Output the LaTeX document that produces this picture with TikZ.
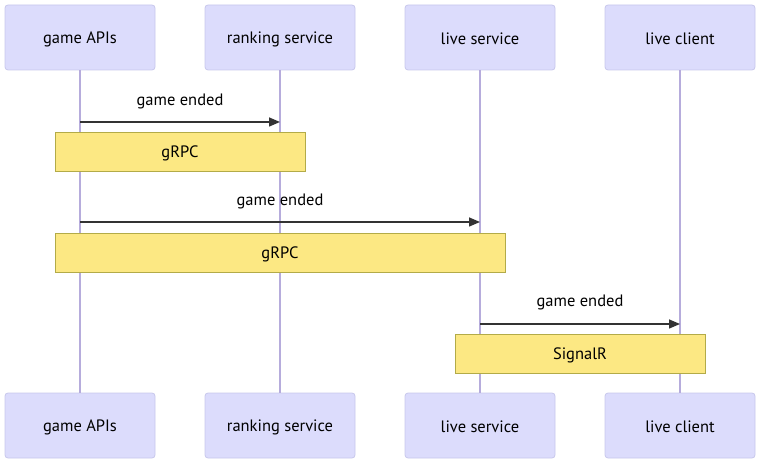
\documentclass[tikz,border=0pt]{standalone}
\usepackage{fontspec}
\setmainfont{PT Sans}
\usetikzlibrary{arrows.meta}
\definecolor{actfill}{HTML}{DCDCFC}
\definecolor{actdraw}{HTML}{C8C8EC}
\definecolor{lifeln}{HTML}{B6ACDC}
\definecolor{notefill}{HTML}{FCE883}
\definecolor{notedraw}{HTML}{B3AB48}
\definecolor{msgc}{HTML}{333333}
\begin{document}
\begin{tikzpicture}[x=1pt,y=-1pt,
  actor/.style={draw=actdraw,fill=actfill,rounded corners=3pt,minimum width=150pt,minimum height=65pt,inner sep=0pt,font=\fontsize{16.5}{19}\selectfont,text=black,line width=0.8pt},
  notebox/.style={draw=notedraw,fill=notefill,minimum height=39pt,inner sep=0pt,font=\fontsize{16.5}{19}\selectfont,text=black,line width=0.8pt},
  lifeline/.style={draw=lifeln,line width=1.3pt},
  msg/.style={draw=msgc,line width=1.5pt,-{Triangle[length=11pt,width=9pt]}},
  msglabel/.style={font=\fontsize{16.5}{19}\selectfont,inner sep=0pt,text=black}]
\useasboundingbox (0,0) rectangle (758,462);
% actors
\node[actor] (a1) at (80,37.5) {};
\node[actor] (a2) at (280,37.5) {};
\node[actor] (a3) at (480,37.5) {};
\node[actor] (a4) at (680,37.5) {};
\node[actor] (b1) at (80,425.5) {};
\node[actor] (b2) at (280,425.5) {};
\node[actor] (b3) at (480,425.5) {};
\node[actor] (b4) at (680,425.5) {};
\foreach \n/\t in {a1/game APIs,a2/ranking service,a3/live service,a4/live client,b1/game APIs,b2/ranking service,b3/live service,b4/live client}
  \node[msglabel] (\n-t) at ([yshift=-1.5pt]\n.center) {\t};
% lifelines
\draw[lifeline] (a1.south) -- (b1.north);
\draw[lifeline] (a2.south) -- (b2.north);
\draw[lifeline] (a3.south) -- (b3.north);
\draw[lifeline] (a4.south) -- (b4.north);
% message 1
\coordinate (m1s) at (80,122);
\coordinate (m1e) at (280,122);
\draw[msg] (m1s) -- (m1e);
\node[msglabel] (t1) at (180,101.5) {game ended};
\node[notebox,minimum width=250pt] (n1) at (180,151.5) {};
\node[msglabel] (n1-t) at (180,153) {gRPC};
% message 2
\coordinate (m2s) at (80,222);
\coordinate (m2e) at (480,222);
\draw[msg] (m2s) -- (m2e);
\node[msglabel] (t2) at (280,201.5) {game ended};
\node[notebox,minimum width=450pt] (n2) at (280,252.5) {};
\node[msglabel] (n2-t) at (280,254) {gRPC};
% message 3
\coordinate (m3s) at (480,324);
\coordinate (m3e) at (680,324);
\draw[msg] (m3s) -- (m3e);
\node[msglabel] (t3) at (580,302.5) {game ended};
\node[notebox,minimum width=250pt] (n3) at (580,353.5) {};
\node[msglabel] (n3-t) at (580,355) {SignalR};
\end{tikzpicture}
\end{document}
